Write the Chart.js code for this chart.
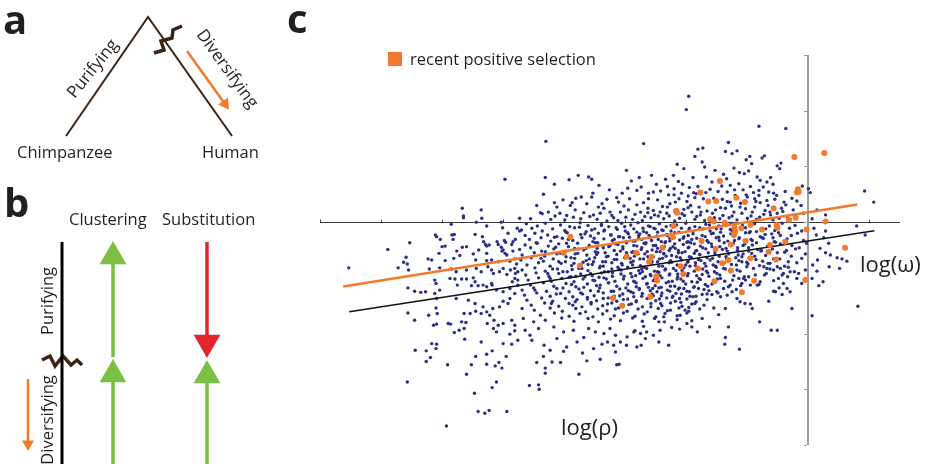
<!DOCTYPE html>
<html>
<head>
<meta charset="utf-8">
<script src="https://cdn.jsdelivr.net/npm/chart.js"></script>
<style>
  html, body { margin: 0; padding: 0; background: #fff; }
  body { width: 926px; height: 464px; position: relative; overflow: hidden; }
  #diagram { position: absolute; left: 0; top: 0; }
  #scatter { position: absolute; left: 280px; top: 0; }
</style>
</head>
<body>
<canvas id="diagram" width="280" height="464"></canvas>
<canvas id="scatter" width="646" height="464"></canvas>
<script>
// panel c: each gene is [log(rho), log(omega)]
const xTicks = [-8, -7, -6, -5, -4, -3, -2, -1, 0, 1];
const yTicks = [-4, -3, -2, -1, 0, 1, 2, 3];

const selectedGenes = [
  [0.26,1.24],[-0.23,1.17],[-0.17,0.59],[-0.16,0.54],[-0.19,0.53],[-1.45,0.74],[-1.18,0.44],[-1.51,0.38],
  [-1.04,0.36],[-0.57,0.25],[-0.32,0.04],[-0.21,0.08],[0.28,0.01],[-0.03,-0.13],[-1.37,-0.01],[-1.36,-0.04],
  [-1.21,-0.10],[-1.20,-0.17],[-1.22,-0.23],[-0.95,-0.05],[-0.76,-0.13],[-0.52,-0.05],[-0.51,-0.10],[-1.55,0.01],
  [-1.61,0.05],[-1.10,-0.11],[-1.03,-0.34],[0.60,-0.46],[-0.38,-0.35],[-0.65,-0.53],[-0.95,-0.65],[-0.53,-0.67],
  [-1.52,-0.48],[-1.27,-0.40],[-0.63,-0.41],[-1.77,0.53],[-1.64,0.37],[-2.17,0.20],[-2.15,0.17],[-2.21,-0.07],
  [-2.22,-0.27],[-1.75,-0.34],[-2.39,-0.46],[-3.90,-0.26],[-4.01,-0.55],[-2.98,-0.62],[-2.82,-0.55],[-2.57,-0.62],
  [-2.61,-0.71],[-2.09,-0.79],[-2.05,-0.93],[-2.49,-0.97],[-2.48,-1.05],[-1.81,-0.83],[-1.41,-0.74],[-1.31,-0.68],
  [-1.27,-0.87],[-1.54,-1.06],[-0.89,-1.05],[-0.05,-1.04],[-1.09,-1.26],[-3.20,-1.36],[-3.05,-1.50],[-2.59,-1.34],
  [-3.74,-0.78]
];

const neutralGenes = [
  // upper fringe
  [-1.96,2.26],[-2.0,2.02],[-4.30,1.45],[-2.70,1.41],[-1.73,1.33],[-1.81,1.31],[-1.86,1.18],[-2.15,1.04],[-2.04,0.96],
  [-1.74,1.08],[-1.70,0.99],[-2.98,0.93],[-4.31,0.80],[-4.16,0.68],[-4.34,0.50],[-3.92,0.76],[-3.77,0.84],[-3.60,0.81],
  [-3.55,0.77],[-3.26,0.58],[-2.90,0.74],[-2.77,0.80],[-2.57,0.84],[-2.34,0.77],[-2.21,0.84],[-2.06,0.68],[-1.89,0.80],
  [-2.96,0.61],[-2.81,0.57],[-2.62,0.52],[-2.54,0.54],[-2.42,0.56],[-2.31,0.64],[-2.20,0.60],[-2.08,0.52],[-1.97,0.47],
  [-1.88,0.53],[-1.84,0.51],[-4.16,0.35],[-3.81,0.43],[-3.87,0.35],[-3.53,0.52],[-3.55,0.45],[-3.38,0.33],[-3.30,0.41],
  [-3.14,0.44],[-3.11,0.36],[-4.39,0.17],[-4.36,0.15],[-4.26,0.18],[-4.07,0.16],[-3.96,0.12],[-3.82,0.22],[-3.68,0.17],
  [-3.52,0.13],[-3.41,0.16],[-3.25,0.18],[-3.08,0.18],[-2.95,0.22],[-2.84,0.14],[-2.75,0.18],[-2.63,0.25],[-2.54,0.21],
  [-2.43,0.18],[-2.32,0.16],[-2.15,0.22],[-2.04,0.23],[-1.91,0.18],[-1.77,0.13],[-1.66,0.20],
  [-4.45,0.30],[-4.22,0.05],[-4.12,0.27],[-3.99,0.04],[-3.90,0.30],[-3.73,0.06],[-3.63,0.33],[-3.46,0.05],[-3.35,0.25],
  [-3.19,0.08],[-3.02,0.29],[-2.88,0.05],[-2.70,0.35],[-2.58,0.08],[-2.47,0.40],[-2.37,0.06],[-2.27,0.33],[-2.11,0.07],
  [-1.99,0.37],[-1.86,0.05],[-1.79,0.27],[-1.62,0.07],[-4.55,0.06],[-3.30,0.02],[-2.93,0.42],[-2.68,0.10],[-2.12,0.42],
  [-1.72,0.42],[-4.02,0.40],[-3.72,0.45],
  [-0.81,1.72],[-0.37,1.68],[-1.31,1.43],[-1.36,1.27],[-1.25,1.23],[-1.17,1.28],[-0.96,1.18],[-1.02,1.12],[-0.93,1.05],
  [-0.76,1.15],[-0.72,1.19],[-0.45,1.06],[-0.51,1.01],[-0.47,0.96],[-1.39,0.86],[-1.13,0.89],[-1.05,0.87],[-0.84,0.81],
  [-0.79,0.75],[-0.62,0.80],[-0.68,0.72],[-1.58,0.72],[-1.28,0.66],[-1.14,0.69],[-0.95,0.64],[-0.90,0.53],[-0.81,0.48],
  [-0.65,0.54],[-0.57,0.52],[-0.52,0.48],[-0.10,0.65],[0.03,0.53],[0.0,0.60],[-1.55,0.43],[-1.41,0.41],[-1.33,0.54],
  [-1.28,0.36],[-1.11,0.34],[-1.00,0.45],[-0.79,0.35],[-0.68,0.39],[-0.40,0.36],[-0.27,0.43],[-1.52,0.22],[-1.36,0.25],
  [-1.22,0.18],[-1.09,0.16],[-0.92,0.18],[-0.73,0.14],[-0.62,0.13],[-0.51,0.16],[-0.35,0.10],[-0.21,0.13],[-0.08,0.16],
  [0.14,0.22],[0.28,0.13],[0.92,0.56],[1.07,0.36],[-1.45,0.06],[-1.30,0.08],[-1.17,0.04],[-1.00,0.07],[-0.85,0.05],
  [-0.66,0.30],[-0.58,0.04],[-0.44,0.25],[-0.30,0.05],[-0.12,0.30],[0.06,0.06],[-1.48,0.55],[-1.20,0.48],[-0.88,0.27],
  [-0.25,0.22],
  [-3.58,0.10],[-3.44,0.27],[-3.22,0.12],[-3.12,0.03],[-2.99,0.09],[-2.81,0.31],[-2.72,0.03],[-2.52,0.13],[-2.39,0.28],
  [-2.28,0.11],[-2.19,0.02],[-2.07,0.15],[-1.93,0.30],[-1.83,0.10],[-1.70,0.03],[-1.57,0.16],[-1.40,0.12],[-1.26,0.29],
  [-1.03,0.24],[-0.80,0.09],[-0.48,0.07],[-3.85,0.09],[-4.15,0.11],[-2.62,0.42],[-2.20,0.49],[-1.95,0.62],[-1.61,0.59],
  [-1.42,0.65],[-1.07,0.58],[-0.74,0.63],[-2.49,0.68],[-2.13,0.73],[-1.67,0.81],[-1.53,0.93],[-1.22,0.97],[-0.98,0.92],
  [-1.81,0.64],[-2.74,0.63],[-3.05,0.52],[-1.34,0.78],[-0.58,0.68],[-0.38,0.55],[-0.88,0.42],[-3.43,0.66],[-2.29,0.49],
  [-2.46,0.11],[-1.97,0.26],[-1.54,0.08],[-1.12,0.27],[-0.71,0.21],[-0.37,0.31],[-2.18,0.36],[-1.76,0.18],[-1.33,0.37],
  [-0.94,0.11],[-0.55,0.41],[-2.63,0.17],[-1.86,0.44],[-1.21,0.58],[-0.81,0.57],[-0.19,0.38],[-2.31,0.27],[-1.44,0.26],
  [-1.02,0.49],[-0.63,0.18],[-1.68,0.53],[-2.03,0.12],[-0.42,0.19],[-1.25,0.11],[-0.86,0.37],
  // left fringe
  [-4.97,0.77],[-5.67,0.25],[-5.65,0.11],[-5.65,0.08],[-5.36,0.22],[-5.35,0.07],[-5.44,0.0],[-5.27,-0.07],[-5.85,-0.04],
  [-6.11,-0.23],[-6.09,-0.26],[-6.03,-0.31],[-5.84,-0.23],[-5.80,-0.22],[-5.82,-0.31],[-5.95,-0.43],[-6.0,-0.44],
  [-6.05,-0.56],[-5.76,-0.52],[-5.67,-0.45],[-5.6,-0.44],[-5.71,-0.6],[-5.81,-0.65],[-5.95,-0.69],[-6.23,-0.66],
  [-6.17,-0.68],[-6.53,-0.37],[-6.89,-0.49],[-6.59,-0.63],[-6.63,-0.72],[-6.57,-0.75],[-5.46,-0.22],[-5.34,-0.26],
  [-5.32,-0.35],[-5.29,-0.4],[-5.27,-0.43],[-5.23,-0.41],[-5.40,-0.50],[-5.49,-0.57],[-5.45,-0.68],[-5.27,-0.56],
  [-5.27,-0.69],[-5.10,-0.35],[-5.08,-0.40],[-5.03,0.0],[-5.01,-0.10],[-4.98,-0.33],[-4.96,-0.36],[-5.03,-0.45],
  [-5.02,-0.52],[-5.0,-0.50],[-4.92,-0.2],[-4.84,-0.35],[-4.86,-0.4],[-4.80,-0.31],[-4.77,-0.11],[-4.73,-0.16],
  [-4.73,0.07],[-4.94,-0.59],[-4.81,-0.66],[-4.89,-0.70],[-4.78,-0.75],[-4.84,-0.52],[-4.97,-0.56],[-5.19,-0.68],
  [-5.08,-0.71],
  [-7.53,-0.82],[-6.72,-0.82],[-6.55,-0.86],[-6.56,-1.18],[-6.45,-1.24],[-6.35,-1.26],[-6.27,-1.25],[-6.56,-1.63],
  [-6.45,-1.76],[-6.44,-2.30],[-6.26,-2.31],[-6.26,-2.50],[-6.19,-2.43],[-6.17,-2.18],[-6.09,-2.19],[-6.10,-2.27],
  [-6.57,-2.87],[-5.93,-3.66],[-5.91,-2.56],[-5.60,-2.73],[-5.47,-3.07],[-5.41,-3.40],[-5.30,-3.43],[-5.23,-3.38],
  [-4.94,-3.40],[-5.11,-2.87],[-5.18,-2.97],[-5.27,-2.55],[-5.13,-2.58],[-5.07,-2.52],[-5.02,-2.62],[-5.52,-2.56],
  [-5.45,-2.41],[-5.36,-2.15],[-5.27,-2.37],[-5.18,-2.31],[-4.95,-2.41],[-5.00,-2.18],[-4.86,-2.19],[-5.63,-2.10],
  [-5.80,-1.98],[-5.72,-1.94],[-5.64,-1.91],[-5.90,-1.82],[-5.86,-1.83],[-6.14,-1.85],[-6.09,-1.83],[-6.22,-1.67],
  [-6.08,-1.64],[-6.10,-1.54],[-5.77,-1.37],[-5.64,-1.64],[-5.54,-1.64],[-5.45,-1.60],[-5.61,-1.80],[-5.68,-1.79],
  [-6.12,-1.04],[-6.10,-1.10],[-6.12,-1.28],[-6.04,-1.22],[-6.09,-1.37],[-5.87,-1.01],[-5.79,-1.02],[-5.68,-1.02],
  [-5.60,-1.02],[-5.75,-1.13],[-5.49,-1.00],[-5.46,-1.07],[-5.52,-1.14],[-5.41,-1.14],[-5.33,-1.13],[-5.27,-1.16],
  [-5.18,-1.13],[-5.19,-1.10],[-5.57,-1.40],[-5.46,-1.46],[-5.33,-1.52],[-5.36,-1.64],[-5.27,-1.61],[-5.17,-1.55],
  [-5.06,-1.52],[-5.00,-1.42],[-4.92,-1.46],[-4.89,-1.37],[-5.22,-1.67],[-5.15,-1.76],[-5.08,-1.85],[-5.00,-1.82],
  [-4.86,-1.76],[-4.81,-1.85],[-5.26,-1.82],[-5.16,-1.91],[-5.11,-1.97],[-4.89,-2.01],[-4.81,-1.95],[-4.76,-2.12],
  [-5.11,-1.22],[-5.00,-1.25],[-4.89,-1.19],[-4.81,-1.28],[-4.76,-1.13],[-4.85,-1.07],[-4.81,-1.01],[-4.76,-1.04],
  [-5.06,-0.89],[-5.00,-0.83],[-4.94,-0.94],[-4.88,-0.86],[-4.80,-0.92],[-4.81,-0.83],[-4.76,-0.89],[-5.25,-0.80],
  [-5.19,-0.86],[-5.16,-0.92],[-5.44,-0.83],[-5.36,-0.89],[-5.60,-0.86],[-5.77,-0.89],[-5.85,-0.84],[-6.21,-0.84],
  [-6.04,-0.82],
  // lower fringe
  [-4.45,-2.52],[-4.31,-2.62],[-4.31,-2.71],[-4.57,-2.93],[-4.42,-2.92],[-4.41,-3.0],[-3.76,-2.73],[-4.20,-2.51],
  [-4.06,-2.52],[-3.70,-2.35],[-3.63,-2.49],[-3.41,-2.46],[-3.14,-2.56],[-3.10,-2.55],[-4.34,-2.41],[-4.56,-2.03],
  [-4.53,-2.12],[-4.64,-1.94],[-4.33,-2.21],[-4.23,-2.30],[-4.01,-2.32],[-3.96,-2.24],[-4.12,-2.09],[-3.79,-2.15],
  [-3.68,-2.07],[-3.52,-2.27],[-3.38,-2.19],[-3.29,-2.15],[-3.08,-2.15],[-2.98,-2.21],[-2.81,-2.24],[-2.74,-2.21],
  [-2.54,-2.03],[-2.29,-2.21],[-2.43,-1.94],[-2.24,-1.89],[-2.11,-1.92],[-1.99,-1.82],[-1.91,-1.77],[-1.74,-1.73],
  [-1.71,-1.49],[-2.97,-2.06],[-2.86,-1.97],[-2.75,-2.0],[-2.65,-1.97],[-3.35,-2.0],[-3.25,-1.91],[-3.16,-2.03],
  [-3.60,-1.91],[-3.49,-1.97],[-3.85,-1.94],[-4.01,-1.97],[-4.17,-1.88],[-4.42,-1.91],[-4.50,-1.79],[-4.67,-1.73],
  [-4.69,-1.55],
  [-1.62,-1.88],[-1.82,-1.97],[-1.96,-1.53],[-1.91,-1.88],[-2.45,-2.15],[-2.67,-2.09],[-3.19,-2.21],[-3.16,-2.33],
  [-2.84,-1.95],[-2.70,-1.87],[-2.45,-1.79],[-2.37,-1.70],[-2.10,-1.67],[-2.02,-1.58],[-2.26,-1.58],
  // right fringe
  [0.79,-0.07],[0.93,-0.23],[0.09,-0.11],[0.13,-0.23],[0.28,-0.16],[0.25,-0.28],[0.33,-0.38],[0.19,-0.47],[0.28,-0.55],
  [0.36,-0.59],[0.47,-0.64],[0.55,-0.66],[0.63,-0.70],
  [0.81,-1.51],[0.06,-1.68],[-0.05,-0.86],[0.14,-0.88],[0.06,-1.01],[0.17,-1.14],[0.24,-1.07],[0.34,-0.80],[0.51,-0.83],
  [-0.11,-1.10],[-0.27,-1.55],[-0.30,-1.25],[-0.35,-1.19],[-0.41,-1.10],[-0.48,-1.18],[-0.54,-1.25],[-0.57,-1.24],
  [-0.43,-1.30],[-0.65,-1.42],[-0.80,-1.79],[-0.61,-1.94],[-0.51,-1.94],[-1.13,-2.28],[-1.31,-1.88],[-1.36,-2.07],
  [-1.37,-2.19],[-1.36,-1.55],[-1.47,-1.66],[-1.55,-1.54],[-0.92,-1.55],[-0.95,-1.47],[-1.04,-1.46],[-1.12,-1.43],
  [-1.17,-1.37],[-0.72,-0.95],[-0.87,-0.95],[-0.98,-0.98],[-1.06,-1.01],[-0.79,-1.07],[-0.84,-1.13],[-0.95,-1.13],
  [-1.03,-1.04],[-1.09,-1.10],[-1.28,-1.13],[-1.39,-1.19],[-1.50,-1.25],[-1.58,-1.30],[-1.25,-1.25],[-1.33,-1.31],
  [-1.44,-1.34],[-0.68,-0.83],[-0.57,-0.86],[-0.46,-0.83],[-0.30,-0.89],[-0.43,-0.95],[-0.51,-0.80],[-0.73,-0.80],
  [-0.90,-0.83],[-1.01,-0.80],[-1.17,-0.86],[-1.28,-0.89],[-1.39,-0.83],[-1.50,-0.92],[-1.55,-1.07],[-1.44,-1.01],
  [-1.14,-1.01],[-0.49,-1.01],[-0.34,-0.98],[-0.19,-1.01],[-0.23,-0.89],[-0.16,-0.92],
  // dense core
  [-4.62,-0.03],[-4.44,-0.07],[-4.31,-0.02],[-4.06,-0.05],[-3.91,-0.08],[-3.74,-0.01],[-3.61,-0.06],[-3.39,-0.04],
  [-3.27,-0.08],[-3.06,-0.02],[-2.91,-0.05],[-2.79,-0.01],[-2.62,-0.07],[-2.44,-0.03],[-2.33,-0.08],[-2.16,-0.05],
  [-2.01,-0.02],[-1.86,-0.08],[-1.68,-0.04],[-1.47,-0.07],[-1.27,-0.02],[-1.08,-0.06],[-0.88,-0.03],[-0.64,-0.07],
  [-0.43,-0.02],[-0.22,-0.06],
  [-4.70,-0.14],[-4.53,-0.11],[-4.36,-0.16],[-4.19,-0.12],[-3.99,-0.15],[-3.83,-0.10],[-3.64,-0.17],[-3.50,-0.12],
  [-3.34,-0.14],[-3.15,-0.10],[-3.00,-0.16],[-2.86,-0.12],[-2.70,-0.17],[-2.53,-0.11],[-2.40,-0.14],[-2.25,-0.16],
  [-2.08,-0.11],[-1.96,-0.15],[-1.78,-0.10],[-1.61,-0.16],[-1.43,-0.12],[-1.25,-0.15],[-1.03,-0.10],[-0.85,-0.17],
  [-0.70,-0.12],[-0.55,-0.15],[-0.31,-0.11],[-0.11,-0.16],
  [-4.64,-0.24],[-4.48,-0.20],[-4.27,-0.23],[-4.12,-0.26],[-3.95,-0.19],[-3.73,-0.22],[-3.57,-0.25],[-3.44,-0.20],
  [-3.24,-0.23],[-3.09,-0.26],[-2.95,-0.21],[-2.78,-0.24],[-2.65,-0.19],[-2.48,-0.25],[-2.32,-0.22],[-2.19,-0.19],
  [-2.04,-0.26],[-1.89,-0.21],[-1.74,-0.24],[-1.56,-0.20],[-1.39,-0.25],[-1.20,-0.22],[-0.97,-0.19],[-0.79,-0.26],
  [-0.60,-0.21],[-0.46,-0.24],[-0.18,-0.20],
  [-4.57,-0.31],[-4.38,-0.28],[-4.22,-0.34],[-4.03,-0.29],[-3.86,-0.33],[-3.71,-0.28],[-3.53,-0.35],[-3.35,-0.30],
  [-3.21,-0.33],[-3.03,-0.28],[-2.88,-0.34],[-2.73,-0.31],[-2.59,-0.28],[-2.41,-0.35],[-2.27,-0.29],[-2.11,-0.32],
  [-1.97,-0.35],[-1.83,-0.29],[-1.66,-0.33],[-1.51,-0.28],[-1.32,-0.34],[-1.14,-0.30],[-0.92,-0.33],[-0.76,-0.28],
  [-0.56,-0.35],[-0.35,-0.30],[-0.08,-0.33],
  [-4.64,-0.41],[-4.46,-0.37],[-4.26,-0.43],[-4.09,-0.39],[-3.93,-0.44],[-3.78,-0.38],[-3.59,-0.42],[-3.45,-0.37],
  [-3.27,-0.44],[-3.12,-0.40],[-2.98,-0.37],[-2.81,-0.43],[-2.67,-0.39],[-2.50,-0.42],[-2.35,-0.37],[-2.22,-0.44],
  [-2.05,-0.40],[-1.93,-0.37],[-1.77,-0.43],[-1.59,-0.39],[-1.45,-0.44],[-1.23,-0.38],[-1.07,-0.42],[-0.85,-0.37],
  [-0.67,-0.43],[-0.46,-0.39],[-0.27,-0.42],[-0.03,-0.38],
  [-4.73,-0.49],[-4.55,-0.46],[-4.37,-0.52],[-4.17,-0.48],[-4.01,-0.53],[-3.83,-0.47],[-3.68,-0.50],[-3.49,-0.53],
  [-3.36,-0.46],[-3.18,-0.51],[-3.04,-0.48],[-2.87,-0.53],[-2.73,-0.46],[-2.56,-0.50],[-2.43,-0.53],[-2.26,-0.47],
  [-2.13,-0.51],[-1.97,-0.46],[-1.85,-0.52],[-1.68,-0.48],[-1.53,-0.53],[-1.35,-0.47],[-1.16,-0.51],[-0.98,-0.46],
  [-0.78,-0.52],[-0.59,-0.48],[-0.36,-0.51],[-0.15,-0.46],
  [-4.69,-0.59],[-4.49,-0.55],[-4.32,-0.61],[-4.12,-0.57],[-3.97,-0.62],[-3.78,-0.56],[-3.63,-0.59],[-3.45,-0.55],
  [-3.31,-0.62],[-3.14,-0.58],[-2.98,-0.55],[-2.85,-0.61],[-2.68,-0.57],[-2.54,-0.62],[-2.37,-0.56],[-2.24,-0.60],
  [-2.07,-0.55],[-1.95,-0.62],[-1.78,-0.58],[-1.64,-0.55],[-1.46,-0.61],[-1.31,-0.57],[-1.09,-0.62],[-0.93,-0.56],
  [-0.70,-0.60],[-0.51,-0.55],[-0.28,-0.61],[-0.05,-0.57],
  [-4.71,-0.68],[-4.54,-0.64],[-4.34,-0.70],[-4.18,-0.66],[-3.98,-0.71],[-3.83,-0.65],[-3.64,-0.69],[-3.50,-0.64],
  [-3.32,-0.71],[-3.18,-0.67],[-3.01,-0.64],[-2.87,-0.70],[-2.70,-0.66],[-2.56,-0.71],[-2.39,-0.65],[-2.26,-0.69],
  [-2.10,-0.64],[-1.97,-0.70],[-1.80,-0.67],[-1.66,-0.64],[-1.48,-0.71],[-1.34,-0.66],[-1.14,-0.69],[-0.97,-0.64],
  [-0.75,-0.70],[-0.57,-0.66],[-0.33,-0.71],[-0.11,-0.65],[0.15,-0.68],
  [-4.61,-0.77],[-4.42,-0.73],[-4.23,-0.79],[-4.05,-0.74],[-3.88,-0.78],[-3.69,-0.72],[-3.54,-0.76],[-3.36,-0.79],
  [-3.22,-0.73],[-3.05,-0.77],[-2.91,-0.72],[-2.75,-0.78],[-2.58,-0.74],[-2.45,-0.79],[-2.28,-0.73],[-2.15,-0.77],
  [-1.98,-0.72],[-1.85,-0.78],[-1.70,-0.74],[-1.52,-0.79],[-1.38,-0.73],[-1.18,-0.77],[-1.01,-0.72],[-0.80,-0.78],
  [-0.63,-0.74],[-0.39,-0.79],[-0.19,-0.73],[0.07,-0.77],
  [-4.69,-0.86],[-4.48,-0.82],[-4.31,-0.88],[-4.11,-0.84],[-3.95,-0.89],[-3.76,-0.83],[-3.61,-0.87],[-3.42,-0.82],
  [-3.28,-0.89],[-3.10,-0.85],[-2.96,-0.81],[-2.78,-0.87],[-2.65,-0.83],[-2.47,-0.89],[-2.34,-0.84],[-2.17,-0.87],
  [-2.04,-0.82],[-1.87,-0.88],[-1.73,-0.84],
  [-4.63,-0.95],[-4.46,-0.91],[-4.25,-0.97],[-4.09,-0.92],[-3.89,-0.98],[-3.73,-0.93],[-3.54,-0.96],[-3.39,-0.91],
  [-3.21,-0.97],[-3.07,-0.93],[-2.89,-0.98],[-2.76,-0.92],[-2.58,-0.96],[-2.45,-0.90],[-2.28,-0.95],[-2.14,-0.98],
  [-1.97,-0.92],[-1.83,-0.96],[-1.65,-0.91],
  [-4.59,-1.04],[-4.42,-1.00],[-4.21,-1.06],[-4.04,-1.01],[-3.84,-1.07],[-3.69,-1.02],[-3.50,-1.05],[-3.35,-1.00],
  [-3.17,-1.06],[-3.03,-1.02],[-2.85,-1.07],[-2.71,-1.01],[-2.54,-1.05],[-2.40,-1.00],[-2.23,-1.06],[-2.09,-1.02],
  [-1.91,-1.07],[-1.77,-1.03],
  [-4.55,-1.13],[-4.34,-1.09],[-4.17,-1.15],[-3.97,-1.10],[-3.81,-1.16],[-3.62,-1.11],[-3.47,-1.14],[-3.28,-1.09],
  [-3.14,-1.15],[-2.96,-1.11],[-2.82,-1.16],[-2.64,-1.10],[-2.51,-1.14],[-2.33,-1.09],[-2.19,-1.15],[-2.01,-1.11],
  [-1.87,-1.16],[-1.69,-1.12],
  [-4.69,-1.22],[-4.50,-1.18],[-4.29,-1.24],[-4.12,-1.19],[-3.92,-1.25],[-3.76,-1.20],[-3.57,-1.23],[-3.42,-1.18],
  [-3.23,-1.24],[-3.09,-1.20],[-2.91,-1.25],[-2.77,-1.19],[-2.59,-1.23],[-2.45,-1.18],[-2.27,-1.24],[-2.13,-1.20],
  [-1.95,-1.25],[-1.80,-1.19],[-1.63,-1.23],
  [-4.65,-1.31],[-4.45,-1.27],[-4.23,-1.33],[-4.06,-1.28],[-3.86,-1.34],[-3.70,-1.29],[-3.51,-1.32],[-3.36,-1.27],
  [-3.18,-1.33],[-3.04,-1.29],[-2.86,-1.34],[-2.72,-1.28],[-2.54,-1.32],[-2.40,-1.27],[-2.22,-1.33],[-2.08,-1.29],
  [-1.89,-1.34],[-1.74,-1.30],
  [-4.61,-1.40],[-4.37,-1.36],[-4.19,-1.42],[-3.98,-1.37],[-3.82,-1.43],[-3.62,-1.38],[-3.47,-1.41],[-3.28,-1.36],
  [-3.14,-1.42],[-2.96,-1.38],[-2.82,-1.43],[-2.64,-1.37],[-2.50,-1.41],[-2.32,-1.36],[-2.18,-1.42],[-1.99,-1.38],
  [-1.84,-1.43],[-1.66,-1.39],
  [-4.54,-1.49],[-4.32,-1.45],[-4.09,-1.51],[-3.92,-1.46],[-3.71,-1.52],[-3.56,-1.47],[-3.37,-1.50],[-3.22,-1.45],
  [-3.04,-1.51],[-2.90,-1.47],[-2.72,-1.52],[-2.58,-1.46],[-2.40,-1.50],[-2.26,-1.45],[-2.07,-1.51],[-1.91,-1.47],
  [-4.49,-1.58],[-4.23,-1.54],[-4.03,-1.60],[-3.81,-1.55],[-3.65,-1.61],[-3.45,-1.56],[-3.30,-1.59],[-3.11,-1.54],
  [-2.97,-1.60],[-2.79,-1.56],[-2.64,-1.61],[-2.46,-1.55],[-2.31,-1.59],[-2.12,-1.54],[-1.96,-1.60],[-1.78,-1.56],
  [-4.39,-1.67],[-4.16,-1.63],[-3.92,-1.69],[-3.74,-1.64],[-3.53,-1.70],[-3.37,-1.65],[-3.18,-1.68],[-3.03,-1.63],
  [-2.84,-1.69],[-2.69,-1.65],[-2.50,-1.70],[-2.35,-1.64],[-2.15,-1.68],[-1.99,-1.63],
  [-4.31,-1.76],[-4.04,-1.72],[-3.84,-1.78],[-3.61,-1.73],[-3.44,-1.79],[-3.24,-1.74],[-3.08,-1.77],[-2.88,-1.72],
  [-2.72,-1.78],[-2.52,-1.73],[-2.36,-1.79],[-2.15,-1.75],
  // extra density through the middle of the cloud
  [-3.47,-0.58],[-2.93,-0.27],[-2.21,-0.83],[-1.64,-0.36],[-3.88,-1.12],[-2.56,-1.29],[-1.92,-0.63],[-3.21,-0.91],
  [-2.74,-0.49],[-1.33,-0.52],[-4.09,-0.71],[-2.38,-0.15],[-3.62,-1.35],[-1.79,-1.01],[-2.99,-1.18],[-2.47,-0.71],
  [-3.35,-0.16],[-1.12,-0.88],[-2.67,-0.98],[-3.96,-0.38],[-2.05,-0.29],[-1.56,-0.77],[-3.14,-0.67],[-2.82,-1.41],
  [-3.71,-0.83],[-2.29,-1.07],[-1.89,-0.17],[-4.23,-1.01],[-2.61,-0.24],[-3.04,-0.44],[-1.45,-0.95],[-3.53,-1.04],
  [-2.13,-0.55],[-2.88,-0.77],[-1.71,-1.21],[-3.29,-1.47],[-2.44,-1.38],[-0.94,-0.31],[-3.82,-0.57],[-2.17,-1.28],
  [-1.27,-0.21],[-3.41,-0.79],[-2.71,-0.11],[-1.98,-0.96],[-3.09,-1.32],[-2.36,-0.44],[-1.51,-0.12],[-4.16,-0.27],
  [-2.52,-0.88],[-3.66,-0.21],[-1.83,-0.51],[-2.97,-0.59],[-3.27,-1.09],[-2.09,-1.44],[-1.19,-0.64],[-3.86,-1.49],
  [-2.63,-0.62],[-1.67,-0.88],[-3.18,-0.31],[-2.41,-1.17],[-0.83,-0.49],[-3.57,-0.92],[-2.25,-0.06],[-1.94,-1.33],
  [-2.84,-0.34],[-4.02,-0.89],[-1.38,-0.37],[-3.12,-0.81],[-2.58,-1.52],[-1.76,-0.69],[-3.44,-1.24],[-2.01,-0.77],
  [-2.77,-1.21],[-1.03,-0.19],[-3.75,-0.09],[-2.33,-0.61],[-1.58,-1.11],[-2.91,-0.92],[-3.33,-0.55],[-2.19,-0.39],
  [-4.31,-0.53],[-1.86,-1.46],[-2.69,-0.81],[-3.01,-0.08],[-1.24,-1.04],[-3.59,-0.66],[-2.46,-0.31],[-2.04,-1.19],
  [-3.23,-0.23],[-1.69,-0.26],[-2.86,-1.06],[-3.92,-0.99],[-2.54,-0.42],[-1.41,-0.73],[-3.16,-1.56],[-2.27,-0.93],
  [-0.71,-0.22],[-3.49,-0.37],[-2.79,-0.57],[-1.96,-0.45],[-3.68,-1.17],[-2.12,-0.18],[-1.53,-0.58],[-2.94,-1.48],
  [-3.37,-0.71],[-2.39,-0.79],[-1.81,-0.84],[-4.13,-1.29],[-2.65,-1.11],[-1.29,-0.41],[-3.06,-0.74],[-2.23,-1.35],
  [-1.62,-0.05],[-3.77,-0.48],[-2.49,-0.53],[-1.07,-0.57],[-3.25,-0.42],[-2.73,-1.33],[-2.08,-0.68],[-3.51,-0.29],
  [-1.88,-1.17],[-2.31,-0.24],[-3.02,-0.97],[-1.47,-0.27],[-3.84,-0.74],[-2.59,-0.08],[-1.73,-0.46],[-3.31,-1.02],
  [-2.15,-1.02],[-0.99,-0.75],[-2.81,-0.18],[-3.64,-0.47],[-2.42,-1.46],[-1.91,-0.31],[-3.19,-1.24],[-2.62,-0.72],
  [-1.36,-0.84],[-4.06,-0.56],[-2.98,-0.35],[-2.28,-0.51],[-1.58,-0.44],[-3.43,-0.99],[-2.76,-0.66],[-1.99,-1.24],
  [-3.97,-0.18],[-2.51,-1.01],[-1.21,-0.33],[-3.08,-0.52],[-2.35,-0.86],[-1.78,-0.58],[-3.56,-1.44],[-2.87,-1.27],
  [-2.18,-0.47],[-0.88,-0.61],[-3.39,-0.06],[-2.66,-0.37],[-1.54,-0.89],[-3.13,-0.13],[-2.43,-0.96],[-1.95,-0.11],
  [-3.73,-1.27],[-2.07,-0.87],[-1.31,-1.16],[-2.92,-0.65],[-3.28,-0.61],[-2.57,-0.33],[-1.85,-0.73],[-4.19,-0.84],
  [-2.72,-0.89],[-1.44,-0.18],[-3.46,-0.47],[-2.24,-0.72],[-1.66,-1.29],[-3.03,-1.39],[-2.47,-0.18],[-0.62,-0.41],
  [-3.61,-0.76],[-2.83,-0.96],[-2.02,-0.53],[-1.16,-0.46],[-3.22,-0.84],[-2.55,-1.19],[-1.74,-0.94],[-3.89,-0.64],
  [-2.34,-0.35],[-1.61,-0.68],[-2.96,-0.19],[-3.36,-1.37],[-2.11,-1.37],[-1.49,-1.02],[-2.64,-0.53],[-3.81,-0.97],
  [-2.26,-1.15],[-1.05,-0.98],[-3.16,-0.39],[-2.78,-0.29],[-1.87,-0.39],[-3.55,-0.14],[-2.48,-1.25],[-1.26,-0.76],
  [-2.37,-0.57],[-1.13,-0.28],[-0.47,-0.66],[-1.82,-1.08],[-2.86,-0.42],[-0.69,-0.92],[-1.59,-0.21],[-2.14,-0.93],
  [-0.92,-0.41],[-2.62,-1.17],[-1.35,-0.62],[-0.28,-0.24],[-1.97,-0.24],[-2.44,-0.66],[-0.81,-1.12],[-1.68,-0.79],
  [-3.07,-0.86],[-1.22,-0.96],[-0.54,-0.36],[-2.27,-0.34],[-1.48,-1.27],[-0.95,-0.17],[-2.73,-0.84],[-1.76,-0.31],
  [-0.39,-0.54],[-2.05,-1.06],[-1.09,-0.71],[-2.95,-1.23],[-0.63,-0.84],[-1.41,-0.49],[-2.51,-0.12],[-1.87,-0.56],
  [-0.74,-0.29],[-2.31,-1.22],[-1.18,-1.21],[-0.21,-0.48],[-1.63,-0.97],[-2.69,-0.38],[-0.86,-0.67],[-1.94,-0.79],
  [-1.28,-0.13],[-2.16,-0.62],[-0.57,-1.05],[-2.89,-0.54],[-1.51,-0.81],[-0.33,-0.81],[-2.41,-1.32],[-1.04,-0.39],
  [-1.72,-0.12],[-2.59,-0.94],[-0.77,-0.51],[-1.99,-0.36],[-1.37,-1.06],[-2.82,-1.09],[-0.49,-0.19],[-1.57,-0.65],
  [-2.23,-0.28],[-1.11,-1.14],[-0.66,-0.74],[-3.11,-0.26],[-1.84,-1.33],[-2.47,-0.47],[-0.98,-0.52],[-1.46,-0.33],
  [-2.11,-1.18],[-0.41,-0.92],[-2.76,-0.21],[-1.65,-1.15],[-1.15,-0.59],[-0.58,-0.28],
  [-4.27,-0.92],[-3.93,-0.31],[-4.48,-1.22],[-3.66,-0.98],[-4.14,-0.45],[-3.41,-1.13],[-4.38,-0.65],[-3.79,-1.39],
  [-4.02,-1.18],[-3.52,-0.71],[-4.44,-0.38],[-3.87,-0.85],[-4.21,-1.46],[-3.34,-0.89],[-3.98,-0.52]
];

// fitted regression lines, end points
const fitAll = [[-7.52,-1.61],[1.08,-0.156]];
const fitSelected = [[-7.62,-1.154],[0.80,0.318]];

// panels a and b are drawn in page pixels (x right, y down)
const treeBranches = [[66,136],[148,17],[232,136]];
const treeBreak = [[154,53],[164,50],[161,41],[172,38],[173,30],[182,26]];
const treeArrowShaft = [[187,51],[225,104]];
const treeArrowHead = [[225,104]];

const lineageAxis = [[62,242],[62,464]];
const lineageBreak = [[42,360],[50,356],[55,366],[63,356],[71,365],[77,360],[82,365]];
const lineageArrowShaft = [[28,379],[28,444]];
const lineageArrowHead = [[28,444]];

const clusteringShafts = [[[113,262],[113,357]], [[113,382],[113,464]]];
const clusteringHeads = [[113,256.5],[113,374.5]];
const substitutionRedShaft = [[207,242],[207,337]];
const substitutionRedHead = [[207,342.5]];
const substitutionGreenShaft = [[207,383],[207,464]];
const substitutionGreenHead = [[207,375.5]];

const NAVY = '#2b2e83';
const ORANGE = '#f27a2c';
const BROWN = '#3b2314';
const GREEN = '#7bbf45';
const RED = '#e3242b';
const INK = '#231f20';
const FONT = '"Open Sans", "DejaVu Sans", sans-serif';

const toXY = pts => pts.map(p => ({ x: p[0], y: p[1] }));

function segment(pts, color, width) {
    return { data: toXY(pts), showLine: true, borderColor: color, borderWidth: width,
             pointRadius: 0, borderJoinStyle: 'miter', borderCapStyle: 'butt' };
}
function heads(pts, color, radius, rotation) {
    return { data: toXY(pts), showLine: false, pointStyle: 'triangle', pointRadius: radius,
             pointRotation: rotation, pointBackgroundColor: color, pointBorderWidth: 0 };
}

const diagramLabels = {
    id: 'diagramLabels',
    afterDraw(chart) {
        const { ctx, scales: { x, y } } = chart;
        const px = v => x.getPixelForValue(v), py = v => y.getPixelForValue(v);
        ctx.save();
        ctx.fillStyle = INK;
        ctx.textBaseline = 'alphabetic';
        ctx.font = 'bold 40px ' + FONT;
        ctx.fillText('a', px(3), py(34));
        ctx.fillText('b', px(4), py(217));
        ctx.font = '16.5px ' + FONT;
        ctx.fillText('Chimpanzee', px(17), py(158));
        ctx.fillText('Human', px(202), py(158));
        ctx.fillText('Clustering', px(69), py(225));
        ctx.fillText('Substitution', px(162), py(225));
        const rot = (text, cx, cy, deg, size) => {
            ctx.save();
            ctx.font = size + 'px ' + FONT;
            ctx.translate(px(cx), py(cy));
            ctx.rotate(deg * Math.PI / 180);
            ctx.textAlign = 'center';
            ctx.textBaseline = 'middle';
            ctx.fillText(text, 0, 0);
            ctx.restore();
        };
        rot('Purifying', 93, 69, -51, 17);
        rot('Diversifying', 227, 69, 54, 17);
        rot('Purifying', 48, 301, -90, 16.5);
        rot('Diversifying', 48, 420, -90, 16.5);
        ctx.restore();
    }
};

new Chart(document.getElementById('diagram'), {
    type: 'scatter',
    data: {
        datasets: [
            segment(treeBranches, BROWN, 2),
            segment(treeBreak, BROWN, 3.5),
            segment(treeArrowShaft, ORANGE, 2.5),
            heads(treeArrowHead, ORANGE, 7, 145),
            segment(lineageAxis, '#000', 3),
            segment(lineageBreak, BROWN, 3.5),
            segment(lineageArrowShaft, ORANGE, 2.5),
            heads(lineageArrowHead, ORANGE, 7, 180),
            segment(clusteringShafts[0], GREEN, 3.5),
            segment(clusteringShafts[1], GREEN, 3.5),
            heads(clusteringHeads, GREEN, 15.4, 0),
            segment(substitutionRedShaft, RED, 3.5),
            heads(substitutionRedHead, RED, 15.4, 180),
            segment(substitutionGreenShaft, GREEN, 3.5),
            heads(substitutionGreenHead, GREEN, 15.4, 0)
        ]
    },
    options: {
        responsive: false,
        animation: false,
        events: [],
        layout: { autoPadding: false, padding: 0 },
        scales: {
            x: { type: 'linear', min: 0, max: 280, display: false },
            y: { type: 'linear', min: 0, max: 464, reverse: true, display: false }
        },
        plugins: { legend: { display: false }, tooltip: { enabled: false } }
    },
    plugins: [diagramLabels]
});

const crossAxes = {
    id: 'crossAxes',
    beforeDatasetsDraw(chart) {
        const { ctx, scales: { x, y } } = chart;
        const x0 = Math.round(x.getPixelForValue(0));
        const y0 = Math.round(y.getPixelForValue(0)) + 0.5;
        ctx.save();
        ctx.strokeStyle = '#3a3a3a';
        ctx.lineWidth = 1;
        ctx.beginPath();
        ctx.moveTo(x.getPixelForValue(x.min), y0);
        ctx.lineTo(x.getPixelForValue(x.max), y0);
        xTicks.forEach(t => {
            const tx = Math.round(x.getPixelForValue(t)) + 0.5;
            ctx.moveTo(tx, y0);
            ctx.lineTo(tx, y0 - 3);
        });
        ctx.stroke();
        ctx.strokeStyle = '#9d9d9d';
        ctx.lineWidth = 2;
        ctx.beginPath();
        ctx.moveTo(x0, y.getPixelForValue(y.min));
        ctx.lineTo(x0, y.getPixelForValue(y.max));
        ctx.stroke();
        ctx.lineWidth = 1;
        ctx.beginPath();
        yTicks.forEach(t => {
            const ty = Math.round(y.getPixelForValue(t)) + 0.5;
            ctx.moveTo(x0 - 1, ty);
            ctx.lineTo(x0 - 4, ty);
        });
        ctx.stroke();
        ctx.restore();
    }
};

const panelLabels = {
    id: 'panelLabels',
    afterDraw(chart) {
        const ctx = chart.ctx;
        ctx.save();
        ctx.fillStyle = INK;
        ctx.textBaseline = 'alphabetic';
        ctx.font = 'bold 40px ' + FONT;
        ctx.fillText('c', 7, 33);
        ctx.fillStyle = ORANGE;
        ctx.fillRect(108, 52, 14, 14);
        ctx.fillStyle = INK;
        ctx.font = '16.5px ' + FONT;
        ctx.fillText('recent positive selection', 130, 65);
        ctx.font = '22px ' + FONT;
        ctx.fillText('log(\u03C1)', 281, 435);
        ctx.fillText('log(\u03C9)', 580, 272);
        ctx.restore();
    }
};

new Chart(document.getElementById('scatter'), {
    type: 'scatter',
    data: {
        datasets: [
            { label: 'recent positive selection', data: toXY(selectedGenes), pointRadius: 3,
              pointBackgroundColor: ORANGE, pointBorderWidth: 0, order: 0 },
            { data: toXY(fitSelected), showLine: true, borderColor: ORANGE, borderWidth: 2.5,
              pointRadius: 0, order: 1 },
            { data: toXY(fitAll), showLine: true, borderColor: '#111', borderWidth: 1.5,
              pointRadius: 0, order: 2 },
            { data: toXY(neutralGenes), pointRadius: 1.7, pointBackgroundColor: NAVY,
              pointBorderWidth: 0, order: 3 }
        ]
    },
    options: {
        responsive: false,
        animation: false,
        events: [],
        layout: { autoPadding: false, padding: { left: 40, right: 26, top: 55, bottom: 19 } },
        scales: {
            x: { type: 'linear', min: -8, max: 1.5, display: false },
            y: { type: 'linear', min: -4, max: 3, display: false }
        },
        plugins: { legend: { display: false }, tooltip: { enabled: false } }
    },
    plugins: [crossAxes, panelLabels]
});
</script>
</body>
</html>
